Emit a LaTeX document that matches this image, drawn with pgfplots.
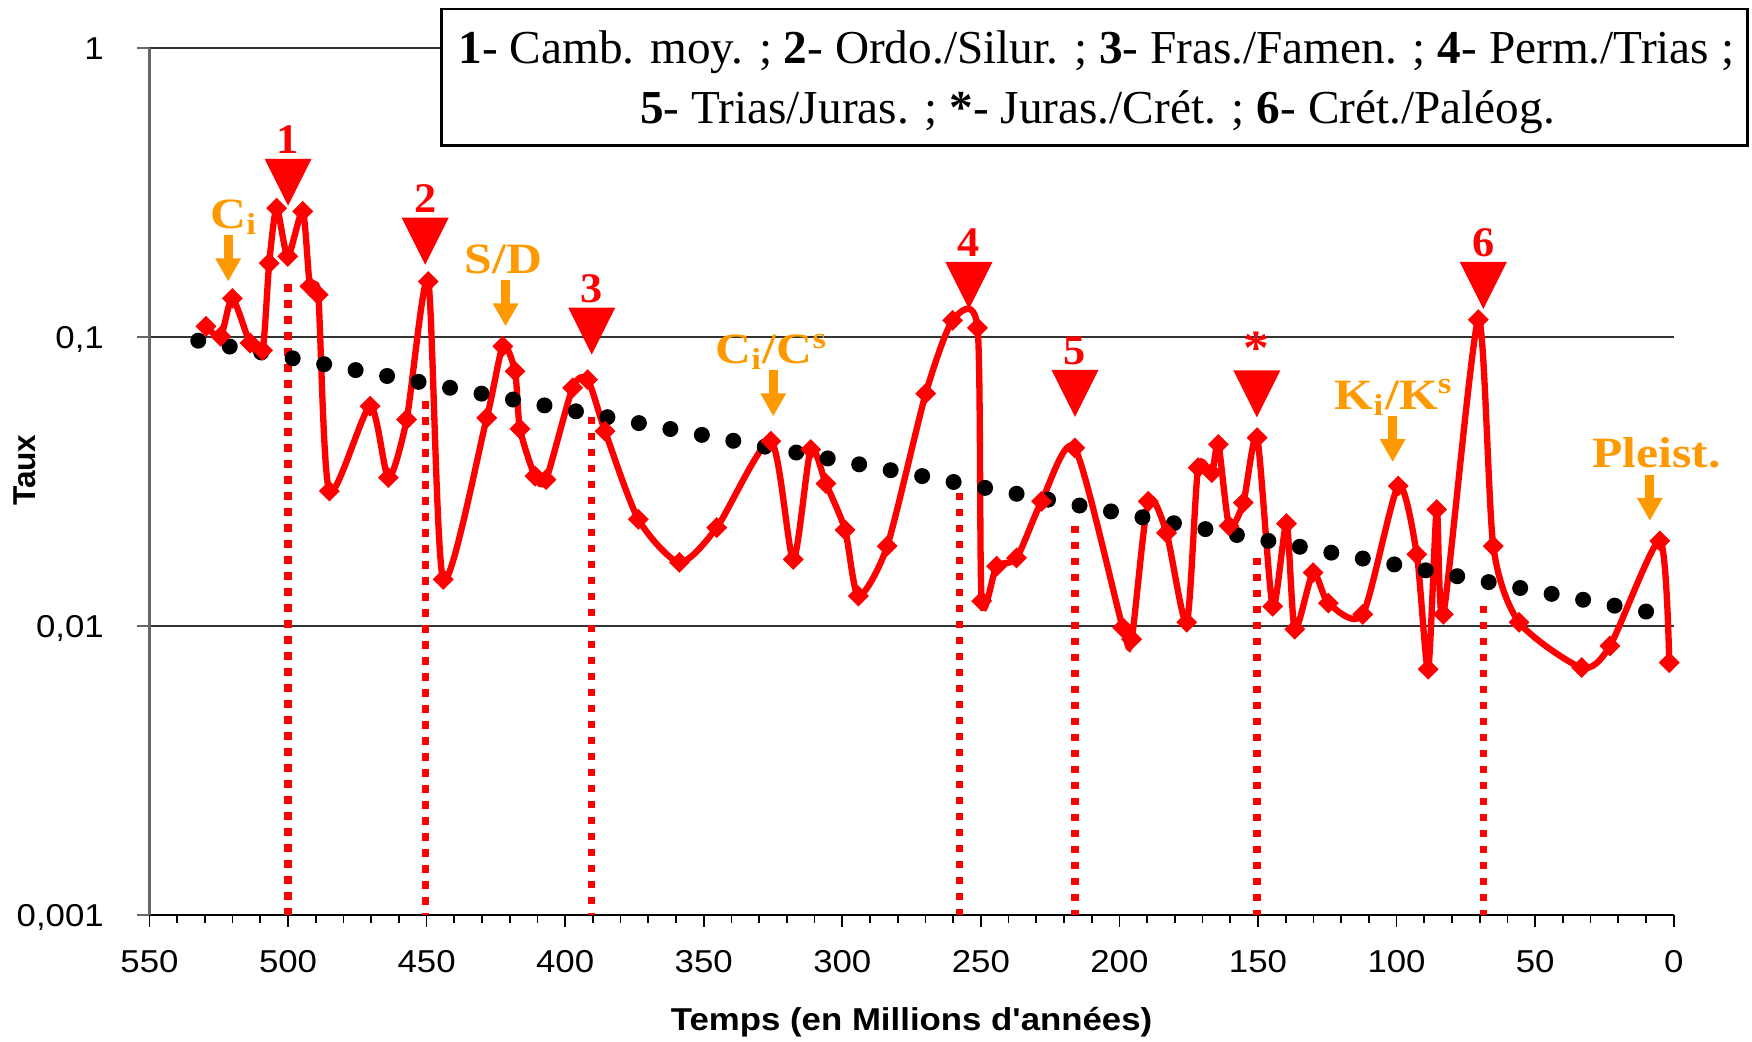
\documentclass[border=0pt]{standalone}
\usepackage{fontspec}
\setmainfont{Liberation Serif}
\setsansfont{Liberation Sans}
\usepackage{graphicx}
\usepackage{pgfplots}
\usepackage{pgfplotstable}
\pgfplotsset{compat=1.18}
\usetikzlibrary{arrows.meta}

\definecolor{evred}{RGB}{255,0,0}
\definecolor{evorange}{RGB}{255,153,0}

% Extinction rate through time (age in Ma, rate)
\pgfplotstableread{
age taux
529.6 0.1088
524.3 0.1005
520.1 0.136
513.7 0.0953
509.2 0.0899
506.8 0.180
504.1 0.279
500.1 0.190
494.7 0.272
492.1 0.1496
489.1 0.140
485.1 0.0293
470.4 0.0576
463.8 0.0326
457.2 0.0518
449.4 0.1556
444.0 0.0145
428.3 0.0525
422.5 0.0928
418.1 0.0761
416.3 0.0481
410.9 0.0330
406.9 0.0321
397.3 0.0667
391.9 0.0712
385.6 0.0472
373.6 0.0234
358.8 0.0166
345.3 0.0219
325.8 0.0436
317.7 0.0170
311.4 0.0408
305.9 0.0311
299.0 0.0215
294.2 0.0127
283.8 0.0189
269.9 0.0637
260.2 0.1141
251.2 0.1075
249.7 0.0122
244.3 0.0161
237.1 0.0172
228.1 0.0270
216.1 0.0413
198.8 0.00987
195.6 0.0090
189.6 0.0270
183.0 0.0210
175.7 0.0103
171.6 0.0353
166.7 0.0339
164.3 0.0425
160.4 0.0222
155.3 0.0267
150.3 0.0448
144.7 0.0117
139.7 0.0226
136.7 0.00975
130.1 0.0153
124.6 0.0120
112.2 0.01097
99.4 0.0305
92.7 0.0177
88.6 0.00709
85.5 0.0253
83.1 0.01097
70.5 0.1148
65.1 0.0189
55.8 0.0103
33.2 0.00718
23.0 0.00853
5.0 0.0197
1.6 0.00747
}\extinction

\newcommand\hx[1]{\scalebox{1.1}[1]{#1}}
\newcommand\evfont{\fontsize{12}{14}\selectfont\bfseries}
\newcommand\orfont{\fontsize{12.3}{14}\selectfont\bfseries}

% major crisis: dotted line, triangle and its number
\newcommand\crisisline[2]{%
  \addplot[evred, line width=0.73mm, dash pattern=on 0.73mm off 0.87mm, forget plot]
    coordinates {(#1,#2) (#1,0.001)};}
\newcommand\crisis[3]{%
  \fill[evred] (axis cs:#1,#2) -- ++(-2.35mm,4.7mm) -- ++(4.7mm,0mm) -- cycle;
  \node[evred, anchor=base, inner sep=0pt, font=\evfont]
    at ([yshift=5.25mm]axis cs:#1,#2) {\scalebox{1.05}[1]{#3}};}
% secondary event: orange arrow and label
\newcommand\event[4]{%
  \draw[evorange, line width=0.9mm, -{Triangle[width=2.4mm,length=2.3mm]}]
    ([yshift=4.6mm]axis cs:#1,#2) -- (axis cs:#1,#2);
  \node[evorange, anchor=base, inner sep=0pt, font=\orfont]
    at ([xshift=#4, yshift=5.3mm]axis cs:#1,#2) {\scalebox{1.15}[1]{#3}};}

\begin{document}
\begin{tikzpicture}
\useasboundingbox (-14.95mm,-12.6mm) rectangle (160.25mm,91.5mm);
\begin{axis}[
  at={(0,0)}, anchor=south west,
  scale only axis, width=152.42mm, height=86.71mm,
  xmin=0, xmax=550, x dir=reverse,
  ymode=log, ymin=0.001, ymax=1,
  axis x line*=bottom, axis y line*=left,
  x axis line style={black, line width=0.6pt},
  y axis line style={black!60, line width=0.6pt},
  tick align=outside,
  major tick length=1.2mm, minor tick length=0.8mm,
  x tick style={black, line width=0.5pt},
  y tick style={black!60, line width=0.5pt},
  xtick={0,50,...,550},
  xticklabels={\hx{0},\hx{50},\hx{100},\hx{150},\hx{200},\hx{250},\hx{300},\hx{350},\hx{400},\hx{450},\hx{500},\hx{550}},
  minor x tick num=4,
  ytick={0.001,0.01,0.1,1},
  yticklabels={{\hx{0,001}},{\hx{0,01}},{\hx{0,1}},{\hx{1}}},
  yminorticks=false,
  tick label style={font=\sffamily\fontsize{9}{10}\selectfont, inner sep=0pt},
  xticklabel style={anchor=base, yshift=-4.6mm},
  yticklabel style={anchor=base east, xshift=-3.3mm, yshift=-1.13mm},
  ymajorgrids=true,
  major grid style={black!80, line width=0.35pt},
  clip=false,
  xlabel={\hx{Temps (en Millions d\textquotesingle années)}},
  xlabel style={at={(rel axis cs:0.5,0)}, anchor=base, yshift=-11.5mm,
    font=\sffamily\bfseries\fontsize{9}{10}\selectfont, inner sep=0pt},
  ylabel={Taux},
  ylabel style={at={(rel axis cs:0,0.513)}, anchor=center, yshift=12.5mm,
    font=\sffamily\bfseries\fontsize{9}{10}\selectfont, inner sep=0pt},
]
% dotted verticals of the major crises
\crisisline{500}{0.152}
\crisisline{450.5}{0.0599}
\crisisline{390.4}{0.0529}
\crisisline{257.8}{0.0289}
\crisisline{216.05}{0.0222}
\crisisline{150.4}{0.01723}
\crisisline{68.7}{0.01173}

% extinction rate
\addplot[evred, line width=1.8pt, smooth, tension=0.42,
  mark=square*, mark size=1.85pt,
  mark options={rotate=45, solid, fill=evred, draw=evred, line width=0.5pt}]
  table[x=age, y=taux] {\extinction};

% exponential trend
\addplot[black, line width=1.6mm, line cap=round, dash pattern=on 0pt off 3.202mm]
  coordinates {(532.4,0.0971) (9.7,0.011208)};

% triangles and numbers
\crisis{500}{0.2843}{1}
\crisis{450.5}{0.1778}{2}
\crisis{390.4}{0.0869}{3}
\crisis{254.3}{0.125}{4}
\crisis{216.05}{0.0529}{5}
\crisis{150.4}{0.0527}{\fontsize{14}{14}\selectfont *}
\crisis{68.7}{0.125}{6}

% secondary events
\event{521.6}{0.1556}{C\textsubscript{i}}{0.6mm}
\event{421.5}{0.1088}{S/D}{-0.2mm}
\event{324.9}{0.0531}{C\textsubscript{i}/C\textsuperscript{s}}{-0.15mm}
\event{101.4}{0.0369}{K\textsubscript{i}/K\textsuperscript{s}}{0.15mm}
\event{8.6}{0.0231}{Pleist.}{0.65mm}
\end{axis}

% key to the numbered crises
\node[draw=black, line width=0.25mm, fill=white, anchor=north west,
  minimum width=130.6mm, minimum height=13.6mm, inner sep=0pt] at (29.05mm,90.7mm) {};
\node[anchor=base, inner sep=0pt, font=\fontsize{13.45}{16}\selectfont] at (94.7mm,85.17mm)
  {\textbf{1}- Camb. moy. ; \textbf{2}- Ordo./Silur. ; \textbf{3}- Fras./Famen. ; \textbf{4}- Perm./Trias ;};
\node[anchor=base, inner sep=0pt, font=\fontsize{13.45}{16}\selectfont] at (94.8mm,79.17mm)
  {\textbf{5}- Trias/Juras. ; \textbf{*}- Juras./Crét. ; \textbf{6}- Crét./Paléog.};
\end{tikzpicture}
\end{document}
